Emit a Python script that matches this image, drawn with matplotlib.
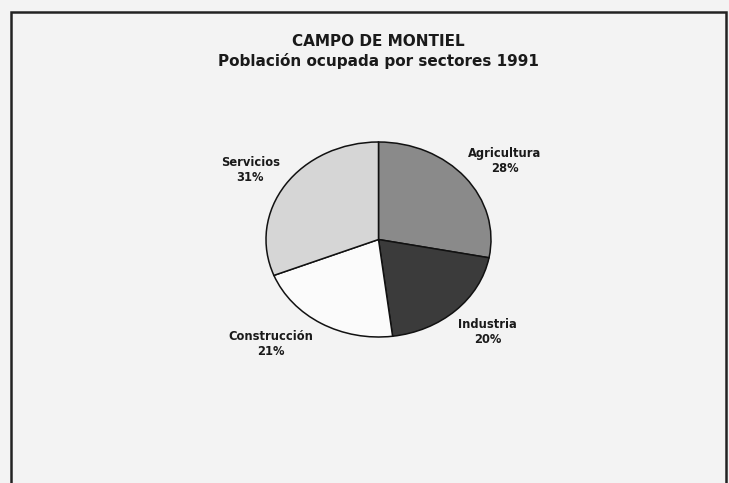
""" Campo de Montiel - poblacion ocupada por sectores 1991 """
import matplotlib.pyplot as plt
from matplotlib.patches import Rectangle

# Datos
sectores = ['Agricultura', 'Industria', 'Construcción', 'Servicios']
porcentajes = [28, 20, 21, 31]
colores = ['#8a8a8a', '#3b3b3b', '#fbfbfb', '#d6d6d6']

# posiciones de las etiquetas (coordenadas del pastel)
pos_etiquetas = [(1.12, 0.81), (0.97, -0.95), (-0.96, -1.07), (-1.14, 0.71)]

plt.rcParams['font.family'] = ['DejaVu Sans']

fig = plt.figure(figsize=(7.29, 4.83), dpi=100)
fig.patch.set_facecolor('#f3f3f3')

# marco
W, H = 729, 483
marco = Rectangle((11.5 / W, -0.01), (726 - 11.5) / W, 1.01 - 12 / H,
                  transform=fig.transFigure, fill=False, edgecolor='#222222',
                  linewidth=1.8)
fig.patches.append(marco)

fig.text(378 / W, 1 - 42 / H, 'CAMPO DE MONTIEL', ha='center', va='center',
         fontsize=11, fontweight='bold', color='#1a1a1a')
fig.text(378 / W, 1 - 61 / H, 'Población ocupada por sectores 1991',
         ha='center', va='center', fontsize=11, fontweight='bold',
         color='#1a1a1a')

# ejes del pastel (ligeramente eliptico)
cx, cy, rx, ry = 378.5, 239.5, 112.5, 97.5
ax = fig.add_axes([(cx - rx) / W, (H - cy - ry) / H, 2 * rx / W, 2 * ry / H])
wedges, textos = ax.pie(porcentajes, colors=colores, startangle=90,
                        counterclock=False, radius=1,
                        wedgeprops=dict(edgecolor='#111111', linewidth=1.1),
                        labels=[f'{s}\n{p}%' for s, p in zip(sectores, porcentajes)],
                        labeldistance=1.4,
                        textprops=dict(fontsize=8.3, fontweight='bold',
                                       color='#1a1a1a', linespacing=1.2))
for t, pos in zip(textos, pos_etiquetas):
    t.set_position(pos)
    t.set_ha('center')
    t.set_va('center')
ax.set_aspect('auto')
ax.set_xlim(-1, 1)
ax.set_ylim(-1, 1)
ax.axis('off')

plt.savefig('out.png', dpi=100, facecolor=fig.get_facecolor())
